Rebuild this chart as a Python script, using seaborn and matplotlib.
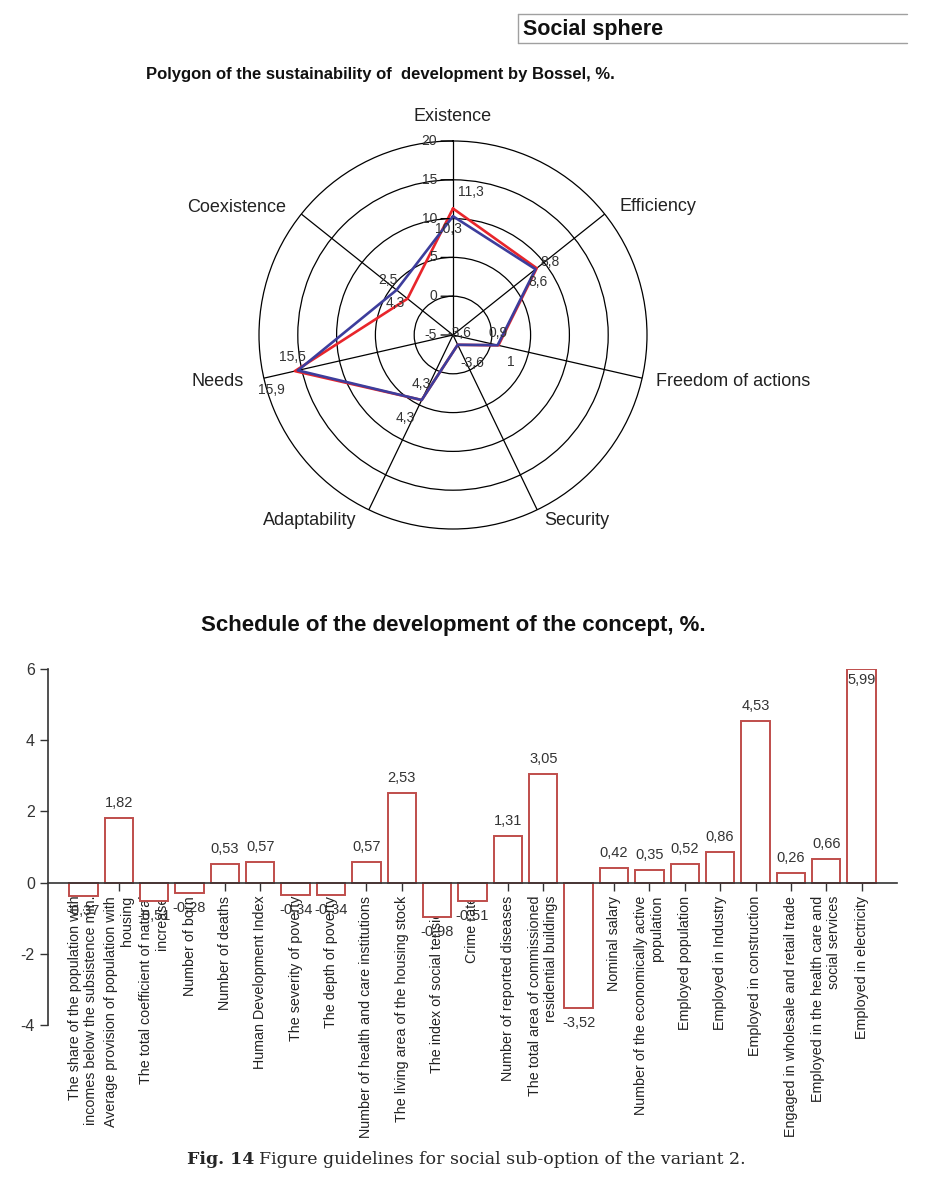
import numpy as np
import pandas as pd
import matplotlib
matplotlib.use("Agg")
import matplotlib.pyplot as plt
from matplotlib.lines import Line2D
import seaborn as sns

# ---------------- data ----------------
radar_axes = ["Existence", "Efficiency", "Freedom of actions", "Security",
              "Adaptability", "Needs", "Coexistence"]
radar_red = [11.3, 8.8, 1.0, -3.6, 4.3, 15.9, 2.5]
radar_blue = [10.3, 8.6, 0.9, -3.6, 4.3, 15.5, 4.3]
radar_ticks = [-5, 0, 5, 10, 15, 20]

bar_labels = [
    "The share of the population with\nincomes below the subsistence min.",
    "Average provision of population with\nhousing",
    "The total coefficient of natural\nincrease",
    "Number of born",
    "Number of deaths",
    "Human Development Index",
    "The severity of poverty",
    "The depth of poverty",
    "Number of health and care institutions",
    "The living area of the housing stock",
    "The index of social tensions",
    "Crime rate",
    "Number of reported diseases",
    "The total area of commissioned\nresidential buildings",
    "Net migration",
    "Nominal salary",
    "Number of the economically active\npopulation",
    "Employed population",
    "Employed in Industry",
    "Employed in construction",
    "Engaged in wholesale and retail trade",
    "Employed in the health care and\nsocial services",
    "Employed in electricity",
]
bar_values = [-0.37, 1.82, -0.51, -0.28, 0.53, 0.57, -0.34, -0.34, 0.57, 2.53,
              -0.98, -0.51, 1.31, 3.05, -3.52, 0.42, 0.35, 0.52, 0.86, 4.53,
              0.26, 0.66, 5.99]
bar_yticks = [-4, -2, 0, 2, 4, 6]

# ---------------- style ----------------
sns.set_style("white")
plt.rcParams["font.family"] = ["Liberation Sans", "DejaVu Sans"]

W, H = 943, 1180
fig = plt.figure(figsize=(W / 100, H / 100), dpi=100)


def fx(px):
    return px / W


def fy(py):
    return 1 - py / H


def fmt(v):
    return ("%g" % v).replace(".", ",")


# header box
fig.text(fx(523), fy(29), "Social sphere", fontsize=15.5, fontweight="bold",
         color="#111111", ha="left", va="center")
for (x0, y0, x1, y1) in [(518, 14, 907, 14), (518, 43, 907, 43), (518, 14, 518, 43)]:
    fig.add_artist(Line2D([fx(x0), fx(x1)], [fy(y0), fy(y1)],
                          transform=fig.transFigure, color="#a0a0a0", lw=1))

# ---------------- radar ----------------
fig.text(fx(380), fy(75), "Polygon of the sustainability of  development by Bossel, %.",
         fontsize=12, fontweight="bold", ha="center", va="center", color="#111111")

cx, cy, R = 453, 335, 194
ax = fig.add_axes([fx(cx - R), fy(cy + R), 2 * R / W, 2 * R / H], projection="polar")
ax.set_theta_zero_location("N")
ax.set_theta_direction(-1)
ax.set_ylim(-5, 20)
n = len(radar_axes)
theta = np.deg2rad(np.arange(n) * 360.0 / n)
ax.set_xticks(theta)
ax.set_xticklabels([])
ax.set_yticks([0, 5, 10, 15])
ax.set_yticklabels([])
ax.grid(True, color="black", lw=0.9)
ax.spines["polar"].set_color("black")
ax.spines["polar"].set_linewidth(0.9)
ax.set_facecolor("none")

th_c = np.append(theta, theta[0])
ax.plot(th_c, radar_red + radar_red[:1], color="#e8252b", lw=1.9, zorder=3)
ax.plot(th_c, radar_blue + radar_blue[:1], color="#3d3d9c", lw=1.9, zorder=4)

# radial tick labels along Existence axis
for t in radar_ticks:
    ax.annotate(str(t), xy=(0, t), xytext=(-16, 0), textcoords="offset pixels",
                ha="right", va="center", fontsize=10, color="#333333")
    ax.annotate("", xy=(0, t), xytext=(-12, 0), textcoords="offset pixels",
                arrowprops=dict(arrowstyle="-", color="black", lw=0.9,
                                shrinkA=0, shrinkB=0))

# category labels
label_pos = [(0.0, 23.1), (58.0, 26.2), (99.5, 31.6), (146.3, 23.8),
             (217.6, 25.2), (258.7, 25.9), (300.6, 27.4)]
for name, (tdeg, rr) in zip(radar_axes, label_pos):
    ax.text(np.deg2rad(tdeg), rr, name, ha="center", va="center",
            fontsize=13, color="#222222")

red_off = [(18, 17), (13, 6), (12, -17), (15, -18), (-16, -18), (-24, -19), (-20, 19)]
blue_off = [(-5, -13), (2, -13), (0, 12), (2, 12), (0, 16), (-5, 13), (-1, -13)]
for vals, offs in [(radar_red, red_off), (radar_blue, blue_off)]:
    for th, v, off in zip(theta, vals, offs):
        ax.annotate(fmt(v), xy=(th, v), xytext=off, textcoords="offset pixels",
                    ha="center", va="center", fontsize=10, color="#333333", zorder=5)

# ---------------- bar chart ----------------
fig.text(fx(453), fy(625), "Schedule of the development of the concept, %.",
         fontsize=16, fontweight="bold", ha="center", va="center", color="#111111")

ax2 = fig.add_axes([fx(48), fy(1025), (897 - 48) / W, (1025 - 669) / H])
df = pd.DataFrame({"label": bar_labels, "value": bar_values})
sns.barplot(data=df, x="label", y="value", color="white", edgecolor="#bf4d4b",
            linewidth=1.4, width=0.8, saturation=1, ax=ax2)
ax2.set_xlim(-1, 23)
ax2.set_ylim(-4, 6)
ax2.set_yticks(bar_yticks)
ax2.set_yticklabels([str(t) for t in bar_yticks], fontsize=11.5, color="#333333")
ax2.set_xlabel("")
ax2.set_ylabel("")
ax2.spines["top"].set_visible(False)
ax2.spines["right"].set_visible(False)
ax2.spines["bottom"].set_position(("data", 0))
for s in ("left", "bottom"):
    ax2.spines[s].set_color("#333333")
    ax2.spines[s].set_linewidth(1.2)
ax2.tick_params(axis="both", direction="out", length=6, width=1, color="#333333",
                left=True, bottom=True)
ax2.set_xticks(range(len(bar_labels)))
ax2.set_xticklabels(bar_labels, rotation=90, fontsize=10.3, color="#222222")
for t in ax2.get_xticklabels():
    t.set_multialignment("right")

for i, v in enumerate(bar_values):
    if v >= 0:
        off = 15 if v < 5.5 else -11
    else:
        off = -15
    ax2.annotate(fmt(v), xy=(i, v), xytext=(0, off), textcoords="offset pixels",
                 ha="center", va="center", fontsize=10.5, color="#333333",
                 annotation_clip=False)

# caption
serif = ["DejaVu Serif", "Liberation Serif"]
fig.text(fx(254), fy(1160), "Fig. 14", fontsize=12.5, fontweight="bold",
         family=serif, ha="right", va="center")
fig.text(fx(259), fy(1160), "Figure guidelines for social sub-option of the variant 2.",
         fontsize=12.5, family=serif, ha="left", va="center")

fig.savefig("out.png", dpi=100, facecolor="white")
